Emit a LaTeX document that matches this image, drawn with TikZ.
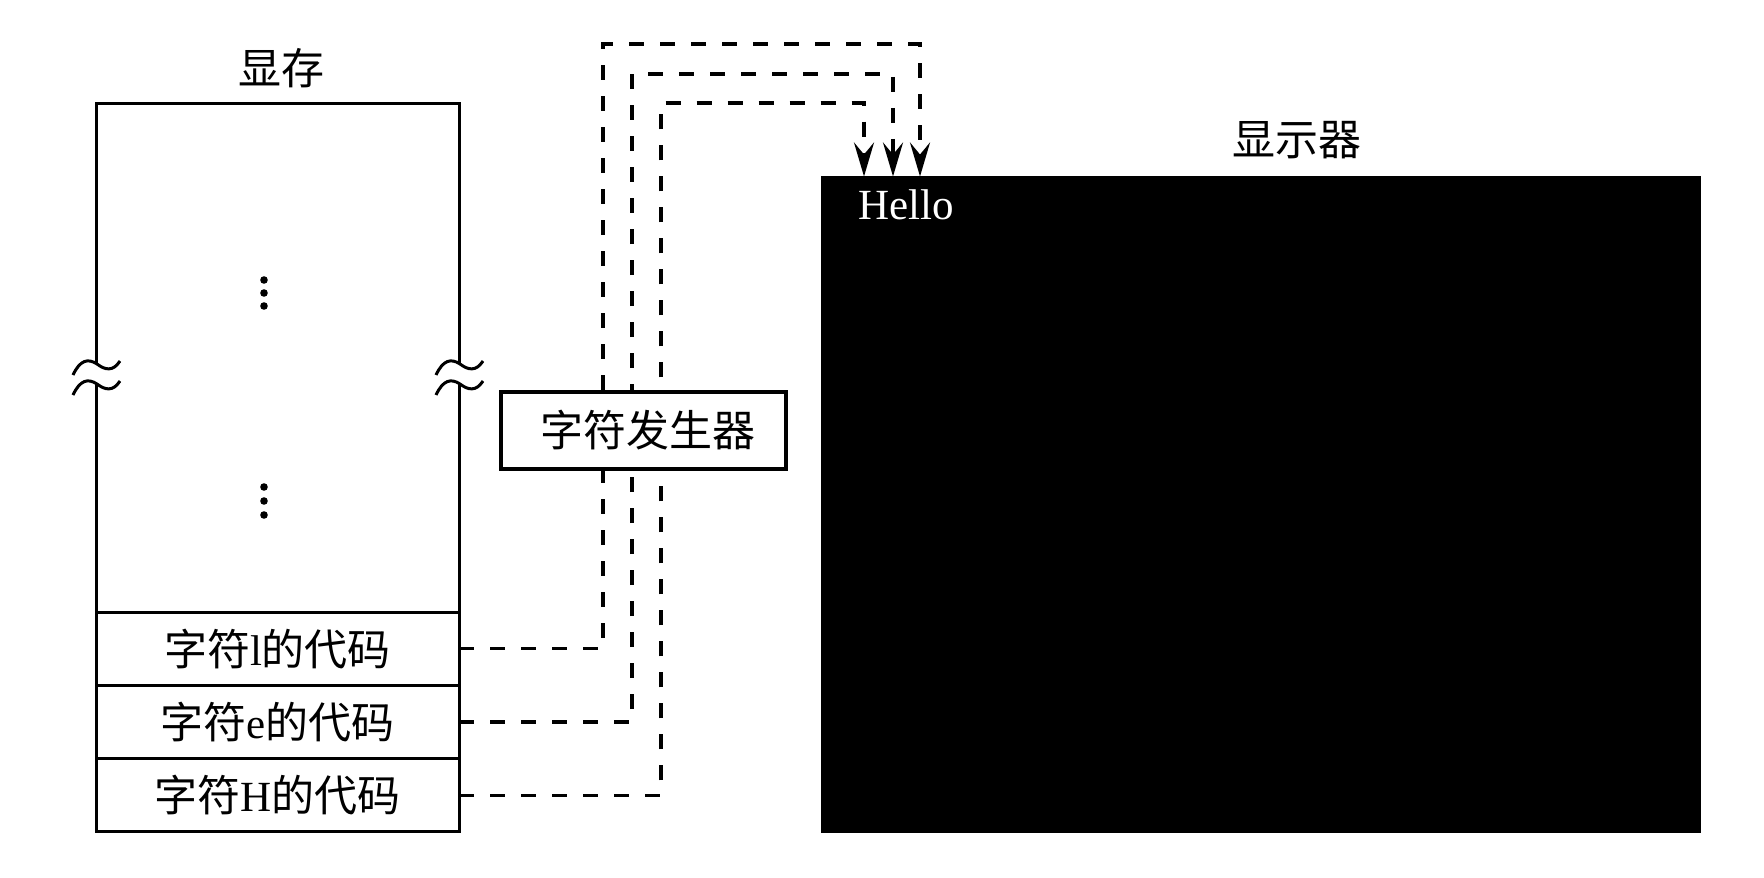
\documentclass[tikz,border=0pt]{standalone}
\usepackage{fontspec}
\setmainfont{Liberation Serif}
\newfontfamily\cjk{Noto Sans CJK SC}
\usetikzlibrary{arrows.meta}
\begin{document}
\begin{tikzpicture}[x=0.5pt,y=-0.5pt,
  solidline/.style={line width=1.5pt},
  dline/.style={line width=1.7pt, dash pattern=on 7.5pt off 8pt},
  txt/.style={font=\fontsize{21.5}{25}\selectfont},
  rowbox/.style={draw, line width=1.5pt, outer sep=0pt, minimum width=181.5pt, minimum height=36.67pt, inner sep=0pt, txt},
  tip/.style={-{Stealth[length=17pt,width=10pt,inset=6pt]}}
]
\useasboundingbox (0,0) rectangle (1764,877);

% memory box rows
\node[rowbox] (rl) at (277.5,648.7) {{\cjk 字符}l{\cjk 的代码}};
\node[rowbox] (re) at (277.5,722) {{\cjk 字符}e{\cjk 的代码}};
\node[rowbox] (rh) at (277.5,795.3) {{\cjk 字符}H{\cjk 的代码}};

% upper part of memory with breaks
\draw[solidline] (rl.north west) -- (96,384);
\draw[solidline] (96,364) -- (96,103.5) -- (459,103.5) -- (459,364);
\draw[solidline] (459,384) -- (rl.north east);
\foreach \bx in {96,459}{
  \foreach \by in {0,20}{
    \draw[solidline] (\bx-23,375+\by) .. controls (\bx-16,360+\by) and (\bx-8,358+\by) .. (\bx+1,364+\by)
      .. controls (\bx+9,370+\by) and (\bx+17,372+\by) .. (\bx+24,361+\by);
  }
}
% dots
\foreach \dy in {280,293,306,487,501,515}{
  \fill (264,\dy) circle[radius=1.9pt];
}
\node[txt] (lmem) at (281,68) {\cjk 显存};

% display
\node[fill=black, minimum width=440pt, minimum height=328pt, inner sep=0pt, outer sep=0pt, anchor=north west] (disp) at (821,176.5) {};
\node[txt, text=white] (hello) at (906,205) {Hello};
\node[txt] (ldisp) at (1297,140) {\cjk 显示器};

% connectors
\coordinate (cl) at (603,44);
\coordinate (ce) at (632,74);
\coordinate (ch) at (661,103);
\draw[dline,tip] (rl.east) -| (cl) -| ([xshift=49.5pt]disp.north west);
\draw[dline,tip] (re.east) -| (ce) -| ([xshift=36pt]disp.north west);
\draw[dline,tip] (rh.east) -| (ch) -| ([xshift=21.5pt]disp.north west);

% character generator
\node[draw, line width=2pt, fill=white, minimum width=142.5pt, minimum height=38.5pt, inner sep=0pt, txt] (gen) at (643,430.5) {\hspace{5pt}\cjk 字符发生器};
\end{tikzpicture}
\end{document}
